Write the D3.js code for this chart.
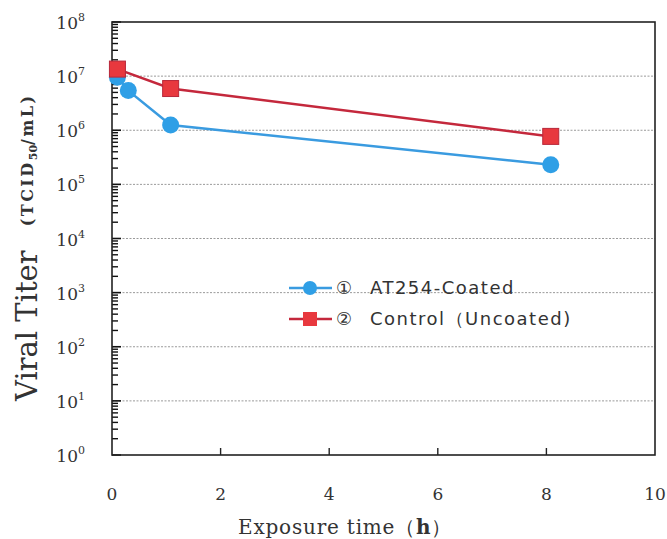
<!DOCTYPE html>
<html>
<head>
<meta charset="utf-8">
<script src="https://cdn.jsdelivr.net/npm/d3@7"></script>
<style>
  body { margin: 0; background: #fff; }
  .tick-label { font-family: "DejaVu Serif", serif; fill: #333; }
</style>
</head>
<body>
<div id="chart"></div>
<script>
// data
var hoursCoated = [0.1, 0.3, 1.08, 8.08];
var titerCoated = [9.5e6, 5.4e6, 1.25e6, 2.3e5];
var hoursControl = [0.1, 1.08, 8.08];
var titerControl = [1.35e7, 5.9e6, 7.7e5];
var xTicks = [0, 2, 4, 6, 8, 10];
var yExponents = [0, 1, 2, 3, 4, 5, 6, 7, 8];
var legendMarks = ["\u2460", "\u2461"];
var legendLabels = ["AT254-Coated", "Control\uFF08Uncoated)"];

var W = 667, H = 539;
var margin = { top: 22, right: 12, bottom: 84, left: 112 };
var width = W - margin.left - margin.right,
  height = H - margin.top - margin.bottom;

var blue = "#2f9fe6", blueLine = "#3a9be0";
var red = "#e8383e", redLine = "#c4283c";

var x = d3.scaleLinear().domain([0, 10]).range([0, width]);
var y = d3.scaleLog().domain([1, 1e8]).range([height, 0]);

var svg = d3
  .select("#chart")
  .append("svg")
  .attr("width", W)
  .attr("height", H)
  .append("g")
  .attr("transform", "translate(" + margin.left + "," + margin.top + ")");

// dotted grid lines at each decade
svg
  .selectAll(".grid")
  .data(yExponents.slice(1, 8))
  .enter()
  .append("line")
  .attr("x1", 0)
  .attr("x2", width)
  .attr("y1", function(d) { return y(Math.pow(10, d)); })
  .attr("y2", function(d) { return y(Math.pow(10, d)); })
  .attr("stroke", "#9a9a9a")
  .attr("stroke-width", 1)
  .attr("stroke-dasharray", "2,1.5");

// minor log ticks, inside the frame
var minor = [];
yExponents.slice(0, 8).forEach(function(e) {
  for (var k = 2; k <= 9; k++) minor.push(k * Math.pow(10, e));
});
svg
  .selectAll(".minor")
  .data(minor)
  .enter()
  .append("line")
  .attr("x1", 0)
  .attr("x2", 6)
  .attr("y1", function(d) { return y(d); })
  .attr("y2", function(d) { return y(d); })
  .attr("stroke", "#111")
  .attr("stroke-width", 1.4);

// major y ticks and labels
svg
  .selectAll(".ymajor")
  .data(yExponents)
  .enter()
  .append("line")
  .attr("x1", 0)
  .attr("x2", 9)
  .attr("y1", function(d) { return y(Math.pow(10, d)); })
  .attr("y2", function(d) { return y(Math.pow(10, d)); })
  .attr("stroke", "#111")
  .attr("stroke-width", 1.6);

var yl = svg
  .selectAll(".ylab")
  .data(yExponents)
  .enter()
  .append("text")
  .attr("class", "tick-label")
  .attr("x", -27)
  .attr("y", function(d) { return y(Math.pow(10, d)) + 7; })
  .attr("text-anchor", "end")
  .style("font-size", "17px");
yl.append("tspan").text("10");
yl.append("tspan")
  .attr("dy", -8)
  .style("font-size", "11px")
  .text(function(d) { return d; });

// x ticks, pointing up into the plot
svg
  .selectAll(".xtick")
  .data(xTicks.slice(1, 5))
  .enter()
  .append("line")
  .attr("x1", function(d) { return x(d); })
  .attr("x2", function(d) { return x(d); })
  .attr("y1", height)
  .attr("y2", height - 7)
  .attr("stroke", "#222")
  .attr("stroke-width", 1.4);

svg
  .selectAll(".xlab")
  .data(xTicks)
  .enter()
  .append("text")
  .attr("class", "tick-label")
  .attr("x", function(d) { return x(d); })
  .attr("y", height + 45)
  .attr("text-anchor", "middle")
  .style("font-size", "17px")
  .text(function(d) { return d; });

// frame
svg
  .append("rect")
  .attr("width", width)
  .attr("height", height)
  .attr("fill", "none")
  .attr("stroke", "#222")
  .attr("stroke-width", 1.6);

// axis titles
var xt = svg
  .append("text")
  .attr("x", 238 - margin.left)
  .attr("y", height + 79)
  .style("font-family", "DejaVu Serif, serif")
  .style("font-size", "20px")
  .style("letter-spacing", "0.8px")
  .attr("fill", "#333");
xt.append("tspan").text("Exposure time\uFF08");
xt.append("tspan").style("font-weight", "bold").text("h");
xt.append("tspan").text("\uFF09");

var yt = svg
  .append("text")
  .attr("transform", "translate(" + (-margin.left + 37) + "," + (401 - margin.top) + ") rotate(-90)")
  .style("font-family", "DejaVu Serif, serif")
  .attr("fill", "#333");
yt.append("tspan").style("font-size", "29px").text("Viral Titer");
yt.append("tspan")
  .attr("dx", 24)
  .attr("dy", -4)
  .style("font-size", "16px")
  .style("font-weight", "bold")
  .style("letter-spacing", "2.5px")
  .text("(TCID");
yt.append("tspan")
  .attr("dy", 4)
  .style("font-size", "11px")
  .style("font-weight", "bold")
  .text("50");
yt.append("tspan")
  .attr("dy", -4)
  .style("font-size", "16px")
  .style("font-weight", "bold")
  .style("letter-spacing", "2.5px")
  .text("/mL)");

// series lines
var coated = hoursCoated.map(function(h, i) { return [h, titerCoated[i]]; });
var control = hoursControl.map(function(h, i) { return [h, titerControl[i]]; });

var line = d3
  .line()
  .x(function(d) { return x(d[0]); })
  .y(function(d) { return y(d[1]); });

svg
  .append("path")
  .datum(coated)
  .attr("d", line)
  .attr("fill", "none")
  .attr("stroke", blueLine)
  .attr("stroke-width", 2.5);

svg
  .selectAll(".dot")
  .data(coated)
  .enter()
  .append("circle")
  .attr("cx", function(d) { return x(d[0]); })
  .attr("cy", function(d) { return y(d[1]); })
  .attr("r", 8.5)
  .attr("fill", blue);

svg
  .append("path")
  .datum(control)
  .attr("d", line)
  .attr("fill", "none")
  .attr("stroke", redLine)
  .attr("stroke-width", 2.5);

svg
  .selectAll(".sq")
  .data(control)
  .enter()
  .append("rect")
  .attr("x", function(d) { return x(d[0]) - 8; })
  .attr("y", function(d) { return y(d[1]) - 8; })
  .attr("width", 16)
  .attr("height", 16)
  .attr("fill", red)
  .attr("stroke", "#b8283a")
  .attr("stroke-width", 1);

// legend
var lg = svg.append("g").attr("transform", "translate(" + (289 - margin.left) + "," + (288 - margin.top) + ")");
lg.append("line").attr("x1", 0).attr("x2", 43).attr("y1", 0).attr("y2", 0)
  .attr("stroke", blueLine).attr("stroke-width", 2.5);
lg.append("circle").attr("cx", 21).attr("cy", 0).attr("r", 7).attr("fill", blue);
lg.append("line").attr("x1", 0).attr("x2", 43).attr("y1", 31).attr("y2", 31)
  .attr("stroke", redLine).attr("stroke-width", 2.5);
lg.append("rect").attr("x", 14).attr("y", 24).attr("width", 14).attr("height", 14)
  .attr("fill", red);
lg.selectAll(".lm")
  .data(legendMarks)
  .enter()
  .append("text")
  .attr("x", 47)
  .attr("y", function(d, i) { return i * 31 + 6; })
  .style("font-family", "DejaVu Sans, sans-serif")
  .style("font-size", "18px")
  .attr("fill", "#333")
  .text(function(d) { return d; });
lg.selectAll(".lt")
  .data(legendLabels)
  .enter()
  .append("text")
  .attr("x", 81)
  .attr("y", function(d, i) { return i * 31 + 6; })
  .style("font-family", "DejaVu Sans, sans-serif")
  .style("font-size", "18px")
  .style("letter-spacing", "1.5px")
  .attr("fill", "#333")
  .text(function(d) { return d; });
</script>
</body>
</html>
